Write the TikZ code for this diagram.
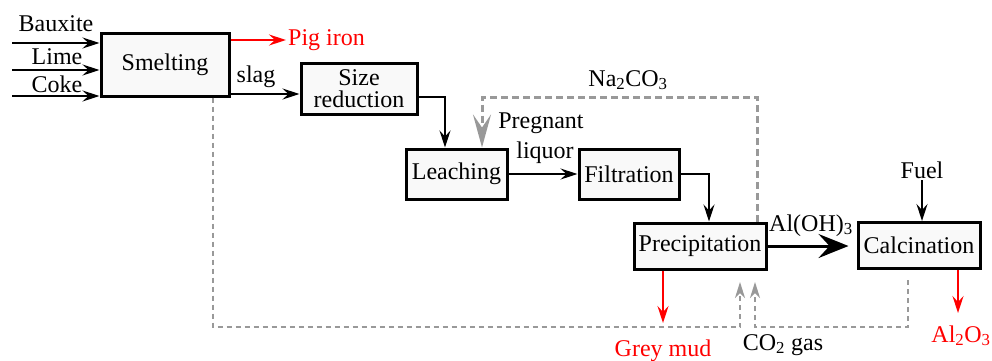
\documentclass[tikz,border=0pt]{standalone}
\usepackage{fontspec}
\setmainfont{Liberation Serif}
\usetikzlibrary{positioning,calc,arrows.meta}
\definecolor{boxfill}{gray}{0.975}
\definecolor{recycle}{gray}{0.6}
\tikzset{
  unit/.style={draw, line width=3pt, fill=boxfill, inner sep=1pt, align=center},
  tag/.style={inner sep=2pt},
  flow/.style={line width=2pt, -{Stealth[length=17pt,width=11pt,inset=6pt]}},
  bigflow/.style={line width=3pt, -{Stealth[length=30pt,width=24pt,inset=11pt]}, shorten >=8pt},
  product/.style={flow, red},
  recyc/.style={recycle, line width=2pt, dash pattern=on 5pt off 4pt, -{Stealth[length=16pt,width=10pt,inset=5pt]}},
  soda/.style={recycle, line width=3pt, dash pattern=on 7pt off 4pt, -{Stealth[length=33pt,width=18pt,inset=13pt]}}
}

\begin{document}
\begin{tikzpicture}[x=1pt, y=-1pt, font=\fontsize{24}{22}\selectfont]
    \useasboundingbox (0,0) rectangle (992,360);
    \node [unit, minimum width=128pt, minimum height=63pt] (smelt) at (165,64.5) {Smelting};
    \node [unit, minimum width=116pt, minimum height=51pt] (size) at (359,88.5) {Size\\reduction};
    \node [unit, minimum width=101pt, minimum height=50pt] (leach) at (456.5,174) {Leaching};
    \node [unit, minimum width=100pt, minimum height=50pt] (filt) at (629,174) {Filtration};
    \node [unit, minimum width=132pt, minimum height=46pt] (prec) at (700,246) {Precipitation};
    \node [unit, minimum width=122pt, minimum height=46pt] (calcin) at (919,245.5) {Calcination};

    \coordinate (inB) at (12,43);
    \coordinate (inL) at (12,70);
    \coordinate (inC) at (12,96);
    \draw [flow] (inB) -- (inB -| smelt.west);
    \draw [flow] (inL) -- (inL -| smelt.west);
    \draw [flow] (inC) -- (inC -| smelt.west);
    \node [tag, anchor=base] (bauxite) at (56,31) {Bauxite};
    \node [tag, anchor=base] (lime) at (57,64) {Lime};
    \node [tag, anchor=base] (coke) at (57,92) {Coke};

    \node [tag, anchor=west, red] (pig) at (286,40) {Pig iron};
    \draw [product] (smelt.east |- pig.west) -- (pig.west);

    \node [tag, anchor=base] (slag) at (256,82) {slag};
    \draw [flow] (smelt.east |- 0,94) -- (size.west |- 0,94);
    \draw [flow] (size.east |- 0,97) -| (leach.north -| 445,0);

    \draw [flow] (leach) -- (filt);
    \node [tag, anchor=base] (pregnant) at (541,128) {Pregnant};
    \node [tag, anchor=base] (liquor) at (545,158) {liquor};

    \draw [flow] (filt.east) -| (prec.north -| 709,0);

    \draw [bigflow] (prec.east) -- (prec.east -| calcin.west);
    \node [tag, anchor=base] (aloh) at (811,231) {Al(OH)\textsubscript{3}};

    \node [tag, anchor=base] (fuel) at (922,178) {Fuel};
    \draw [flow] (fuel.south) -- (fuel.south |- calcin.north);

    \coordinate (aloEnd) at (958,313);
    \draw [product] (calcin.south -| aloEnd) -- (aloEnd);
    \node [tag, anchor=base, red] (alumina) at (961,342) {Al\textsubscript{2}O\textsubscript{3}};

    \coordinate (mudEnd) at (663,323);
    \draw [product] (prec.south -| mudEnd) -- (mudEnd);
    \node [tag, anchor=base, red] (mud) at (663,356) {Grey mud};

    \node [tag, anchor=base] (co2) at (783,350) {CO\textsubscript{2} gas};
    \coordinate (co2inA) at (740,282);
    \coordinate (co2inB) at (755,282);
    \coordinate (calcOut) at (908,280);
    \draw [recyc] (smelt.south -| 213,0) -- (213,327) -| (co2inA);
    \draw [recyc] (calcOut) -- (908,327) -| (co2inB);

    \draw [soda] (prec.north -| 757,0) -- (757,97) -| (leach.north -| 482,0);
    \node [tag, anchor=base] (soda) at (628,86) {Na\textsubscript{2}CO\textsubscript{3}};
\end{tikzpicture}
\end{document}
